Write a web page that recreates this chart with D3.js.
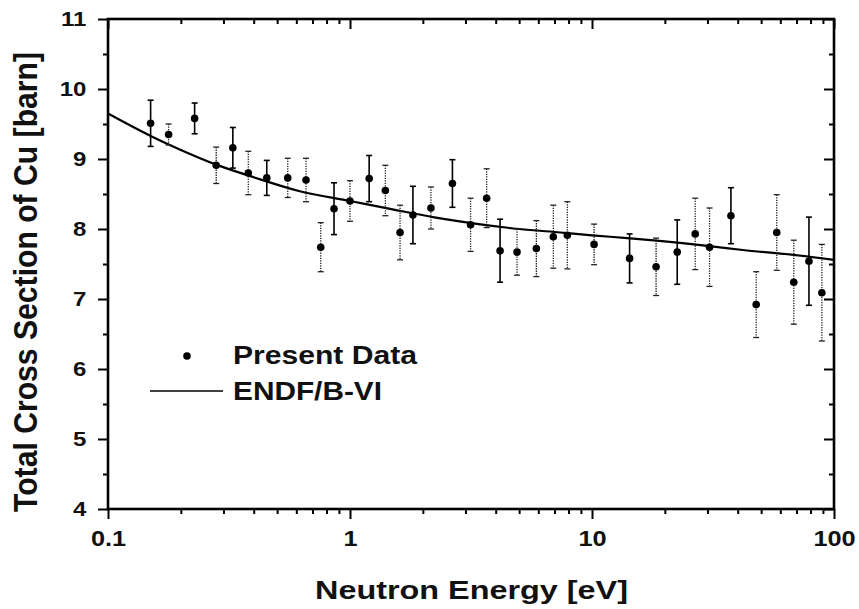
<!DOCTYPE html>
<html><head><meta charset="utf-8">
<script src="https://cdn.jsdelivr.net/npm/d3@7"></script>
<style>
html,body{margin:0;padding:0;background:#fff;}
svg text{font-family:"Liberation Sans",Arial,sans-serif;font-weight:bold;fill:#111;}
</style></head>
<body>
<svg id="chart" width="859" height="609"></svg>
<script>
// Measured data: Present Data
const energy = [0.150,0.178,0.228,0.280,0.328,0.380,0.453,0.553,0.658,0.757,0.859,1.00,1.20,1.40,1.61,1.82,2.16,2.65,3.15,3.67,4.17,4.90,5.89,6.92,7.91,10.2,14.3,18.4,22.5,26.7,30.6,37.5,47.7,58.0,68.2,78.8,89.1];
const sigma = [9.51,9.35,9.58,8.91,9.16,8.80,8.73,8.73,8.70,7.74,8.29,8.40,8.72,8.55,7.95,8.20,8.30,8.65,8.06,8.44,7.69,7.67,7.72,7.89,7.91,7.78,7.58,7.46,7.67,7.93,7.74,8.19,6.92,7.95,7.24,7.54,7.09];
const sigmaErr = [0.33,0.15,0.22,0.26,0.29,0.31,0.25,0.28,0.31,0.35,0.37,0.29,0.33,0.36,0.39,0.41,0.30,0.34,0.38,0.42,0.45,0.33,0.40,0.45,0.48,0.29,0.35,0.41,0.46,0.51,0.56,0.40,0.47,0.54,0.60,0.63,0.69];
const run = [1,2,1,2,1,2,1,2,2,2,1,2,1,2,2,1,2,1,2,2,1,2,2,2,2,2,1,2,1,2,2,1,2,2,2,1,2];
// ENDF/B-VI evaluation curve
const endfEnergy = [0.1,0.15,0.2,0.28,0.4,0.62,1,1.5,2.2,3.4,5,7.4,10,14,19,30,42,68,100];
const endfSigma = [9.65,9.33,9.13,8.92,8.74,8.54,8.40,8.28,8.17,8.07,8.00,7.95,7.91,7.87,7.83,7.76,7.70,7.63,7.56];
// Axis ticks
const xTicks = [0.1,1,10,100];
const xTickLabels = ["0.1","1","10","100"];
const yTicks = [4,5,6,7,8,9,10,11];
const legendLabels = ["Present Data","ENDF/B-VI"];
const xTitle = "Neutron Energy [eV]";
const yTitle = "Total Cross Section of Cu [barn]";

const L=108, R=834, T=19, B=509;
const svg = d3.select("#chart");
svg.append("rect").attr("width",859).attr("height",609).attr("fill","#fff");

const x = d3.scaleLog().domain([0.1,100]).range([L,R]);
const y = d3.scaleLinear().domain([4,11]).range([B,T]);

// minor ticks
const xMinor = [];
[0.1,1,10].forEach(d=>{for(let k=2;k<=9;k++) xMinor.push(d*k);});
const yMinor = d3.range(4.5,11,1);

const g = svg.append("g");
function styleAxis(sel){
  sel.select(".domain").remove();
  sel.selectAll("line").attr("stroke","#000").attr("stroke-width",2);
}
// bottom
g.append("g").attr("transform",`translate(0,${B})`)
 .call(d3.axisBottom(x).tickValues(xTicks).tickFormat((d,i)=>xTickLabels[i]).tickSize(10).tickPadding(11))
 .call(styleAxis)
 .call(s=>s.selectAll("text").attr("font-size",22).attr("transform","scale(1.15,1)").attr("dy","0.71em"));
g.append("g").attr("transform",`translate(0,${B})`)
 .call(d3.axisBottom(x).tickValues(xMinor).tickFormat("").tickSize(5)).call(styleAxis);
// top (inward)
g.append("g").attr("transform",`translate(0,${T})`)
 .call(d3.axisBottom(x).tickValues(xTicks).tickFormat("").tickSize(10)).call(styleAxis);
g.append("g").attr("transform",`translate(0,${T})`)
 .call(d3.axisBottom(x).tickValues(xMinor).tickFormat("").tickSize(5)).call(styleAxis);
// left
g.append("g").attr("transform",`translate(${L},0)`)
 .call(d3.axisLeft(y).tickValues(yTicks).tickFormat(d3.format("d")).tickSize(10).tickPadding(8))
 .call(styleAxis)
 .call(s=>s.selectAll("text").attr("font-size",20).attr("transform","scale(1.2,1)"));
g.append("g").attr("transform",`translate(${L},0)`)
 .call(d3.axisLeft(y).tickValues(yMinor).tickFormat("").tickSize(5)).call(styleAxis);
// right (inward)
g.append("g").attr("transform",`translate(${R},0)`)
 .call(d3.axisLeft(y).tickValues(yTicks).tickFormat("").tickSize(10)).call(styleAxis);
g.append("g").attr("transform",`translate(${R},0)`)
 .call(d3.axisLeft(y).tickValues(yMinor).tickFormat("").tickSize(5)).call(styleAxis);

// frame
svg.append("rect").attr("x",L).attr("y",T).attr("width",R-L).attr("height",B-T)
  .attr("fill","none").attr("stroke","#000").attr("stroke-width",2.6);

// ENDF curve
const endf = endfEnergy.map((e,i)=>({e, s:endfSigma[i]}));
svg.append("path").datum(endf)
  .attr("d", d3.line().x(d=>x(d.e)).y(d=>y(d.s)).curve(d3.curveMonotoneX))
  .attr("fill","none").attr("stroke","#000").attr("stroke-width",2.2);

// data with error bars
const pts = energy.map((e,i)=>({e, s:sigma[i], err:sigmaErr[i], run:run[i]}));
const eb = svg.append("g").selectAll("g").data(pts).join("g");
eb.append("line")
  .attr("x1",d=>x(d.e)).attr("x2",d=>x(d.e))
  .attr("y1",d=>y(d.s+d.err)).attr("y2",d=>y(d.s-d.err))
  .attr("stroke",d=>d.run===1?"#000":"#222")
  .attr("stroke-width",d=>d.run===1?1.6:1.3)
  .attr("stroke-dasharray",d=>d.run===1?null:"1.3,1.2");
[1,-1].forEach(sg=>{
  eb.append("line")
    .attr("x1",d=>x(d.e)-3).attr("x2",d=>x(d.e)+3)
    .attr("y1",d=>y(d.s+sg*d.err)).attr("y2",d=>y(d.s+sg*d.err))
    .attr("stroke",d=>d.run===1?"#000":"#222")
    .attr("stroke-width",d=>d.run===1?1.6:1.3);
});
eb.append("circle").attr("cx",d=>x(d.e)).attr("cy",d=>y(d.s)).attr("r",3.8).attr("fill","#000");

// legend
const lg = svg.append("g");
lg.append("circle").attr("cx",187).attr("cy",356).attr("r",3.8).attr("fill","#000");
lg.append("text").attr("x",233).attr("y",364).attr("font-size",25)
  .attr("textLength",184).attr("lengthAdjust","spacingAndGlyphs").text(legendLabels[0]);
lg.append("line").attr("x1",150).attr("x2",223).attr("y1",391).attr("y2",391)
  .attr("stroke","#000").attr("stroke-width",1.6);
lg.append("text").attr("x",233).attr("y",400).attr("font-size",25)
  .attr("textLength",149).attr("lengthAdjust","spacingAndGlyphs").text(legendLabels[1]);

// axis titles
svg.append("text").attr("x",471.5).attr("y",599).attr("text-anchor","middle").attr("font-size",26.5)
  .attr("textLength",313).attr("lengthAdjust","spacingAndGlyphs").text(xTitle);
svg.append("g").attr("transform","translate(37,282) scale(1.12,1) rotate(-90)")
  .append("text").attr("x",0).attr("y",0).attr("text-anchor","middle").attr("font-size",30)
  .attr("textLength",460).attr("lengthAdjust","spacingAndGlyphs").text(yTitle);
</script>
</body></html>
